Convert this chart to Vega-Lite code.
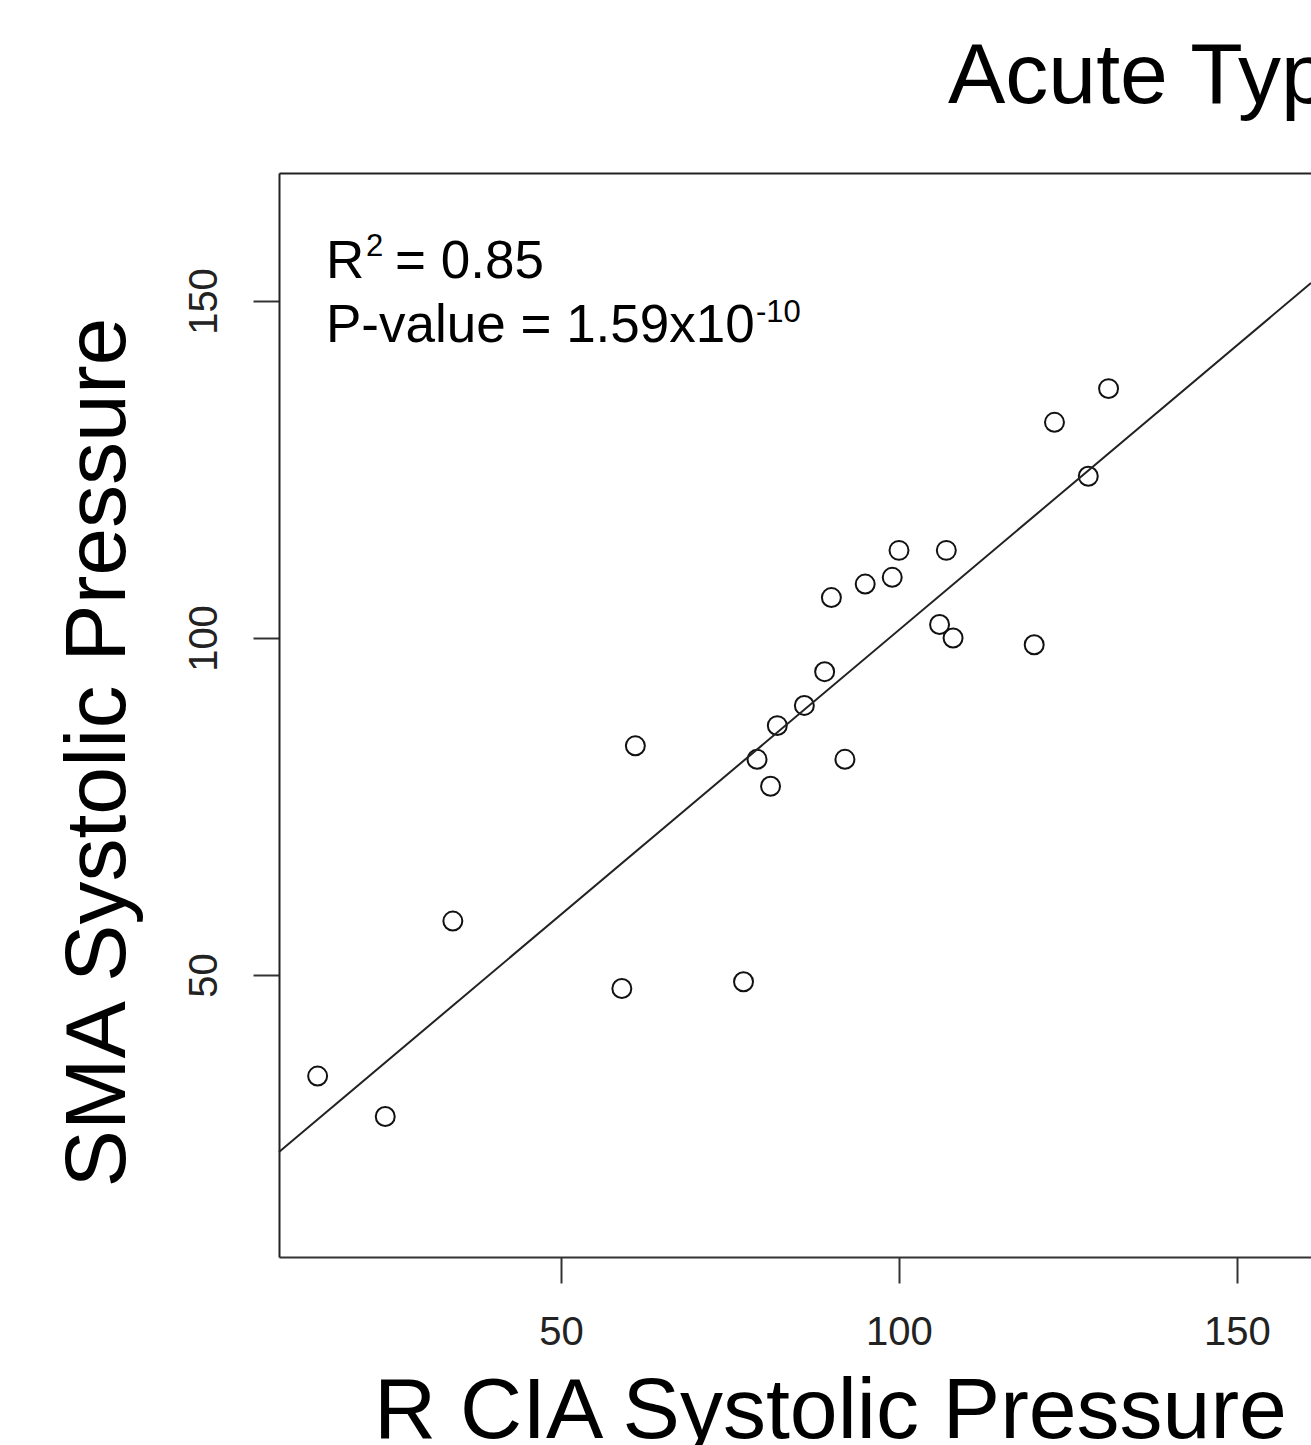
{
  "$schema": "https://vega.github.io/schema/vega-lite/v6.json",
  "width": 1032,
  "height": 1084,
  "autosize": {"type": "none"},
  "padding": {"left": 279, "top": 173, "right": 0, "bottom": 188},
  "background": "white",
  "config": {"view": {"stroke": null}, "font": "Liberation Sans"},
  "title": {
    "text": "Acute Type",
    "anchor": "start",
    "frame": "group",
    "dx": 669,
    "offset": -16,
    "baseline": "alphabetic",
    "fontSize": 86,
    "font": "Liberation Sans",
    "fontWeight": "normal",
    "color": "black"
  },
  "datasets": {
    "points": [
      {"x": 14, "y": 35}, {"x": 24, "y": 29}, {"x": 34, "y": 58}, {"x": 59, "y": 48},
      {"x": 61, "y": 84}, {"x": 77, "y": 49}, {"x": 79, "y": 82}, {"x": 81, "y": 78},
      {"x": 82, "y": 87}, {"x": 86, "y": 90}, {"x": 89, "y": 95}, {"x": 90, "y": 106},
      {"x": 92, "y": 82}, {"x": 95, "y": 108}, {"x": 99, "y": 109}, {"x": 100, "y": 113},
      {"x": 106, "y": 102}, {"x": 107, "y": 113}, {"x": 108, "y": 100}, {"x": 120, "y": 99},
      {"x": 123, "y": 132}, {"x": 128, "y": 124}, {"x": 131, "y": 137}
    ],
    "fit": [
      {"x": 8.284, "y": 23.74},
      {"x": 160.947, "y": 152.67}
    ],
    "one": [{}]
  },
  "layer": [
    {
      "data": {"name": "points"},
      "mark": {"type": "point", "shape": "circle", "filled": false, "size": 360, "strokeWidth": 2, "color": "#111", "opacity": 1},
      "encoding": {
        "x": {
          "field": "x", "type": "quantitative",
          "scale": {"domain": [8.284, 160.947], "nice": false, "zero": false},
          "axis": {
            "orient": "bottom", "values": [50, 100, 150], "grid": false,
            "domain": true, "domainColor": "#333", "domainWidth": 2,
            "ticks": true, "tickColor": "#333", "tickWidth": 2, "tickSize": 26,
            "labelFontSize": 40, "labelFont": "Liberation Sans", "labelColor": "#222",
            "labelPadding": 61, "labelBaseline": "alphabetic", "labelAlign": "center", "labelAngle": 0,
            "title": "R CIA Systolic Pressure", "titleFontSize": 86, "titleFont": "Liberation Sans",
            "titleFontWeight": "normal", "titleColor": "black", "titleX": 551, "titleY": 180,
            "titleBaseline": "alphabetic", "titleAlign": "center"
          }
        },
        "y": {
          "field": "y", "type": "quantitative",
          "scale": {"domain": [8.16, 168.99], "nice": false, "zero": false},
          "axis": {
            "orient": "left", "values": [50, 100, 150], "grid": false,
            "domain": true, "domainColor": "#222", "domainWidth": 2,
            "ticks": true, "tickColor": "#333", "tickWidth": 2, "tickSize": 26,
            "labelFontSize": 40, "labelFont": "Liberation Sans", "labelColor": "#222",
            "labelPadding": 37, "labelAngle": -90, "labelAlign": "center", "labelBaseline": "alphabetic",
            "title": "SMA Systolic Pressure", "titleFontSize": 86, "titleFont": "Liberation Sans",
            "titleFontWeight": "normal", "titleColor": "black", "titleX": -155, "titleY": 579,
            "titleAngle": 270, "titleBaseline": "alphabetic", "titleAlign": "center"
          }
        }
      }
    },
    {
      "data": {"name": "fit"},
      "mark": {"type": "line", "color": "#222", "strokeWidth": 2},
      "encoding": {
        "x": {"field": "x", "type": "quantitative", "axis": {"orient": "top", "labels": false, "ticks": false, "title": null, "grid": false, "domain": true, "domainColor": "#222", "domainWidth": 2}},
        "y": {"field": "y", "type": "quantitative", "axis": null}
      }
    },
    {
      "data": {"name": "one"},
      "mark": {"type": "text", "text": "R", "fontSize": 53, "font": "Liberation Sans", "align": "left", "baseline": "alphabetic", "color": "black"},
      "encoding": {"x": {"datum": 15.24, "type": "quantitative", "axis": null}, "y": {"datum": 153.41, "type": "quantitative", "axis": null}}
    },
    {
      "data": {"name": "one"},
      "mark": {"type": "text", "text": "2", "fontSize": 31, "font": "Liberation Sans", "align": "left", "baseline": "alphabetic", "color": "black", "dx": 40, "dy": -22},
      "encoding": {"x": {"datum": 15.24, "type": "quantitative", "axis": null}, "y": {"datum": 153.41, "type": "quantitative", "axis": null}}
    },
    {
      "data": {"name": "one"},
      "mark": {"type": "text", "text": "= 0.85", "fontSize": 53, "font": "Liberation Sans", "align": "left", "baseline": "alphabetic", "color": "black", "dx": 69},
      "encoding": {"x": {"datum": 15.24, "type": "quantitative", "axis": null}, "y": {"datum": 153.41, "type": "quantitative", "axis": null}}
    },
    {
      "data": {"name": "one"},
      "mark": {"type": "text", "text": "P-value = 1.59x10", "fontSize": 53, "font": "Liberation Sans", "align": "left", "baseline": "alphabetic", "color": "black"},
      "encoding": {"x": {"datum": 15.24, "type": "quantitative", "axis": null}, "y": {"datum": 143.92, "type": "quantitative", "axis": null}}
    },
    {
      "data": {"name": "one"},
      "mark": {"type": "text", "text": "-10", "fontSize": 31, "font": "Liberation Sans", "align": "left", "baseline": "alphabetic", "color": "black", "dx": 430, "dy": -20},
      "encoding": {"x": {"datum": 15.24, "type": "quantitative", "axis": null}, "y": {"datum": 143.92, "type": "quantitative", "axis": null}}
    }
  ],
  "resolve": {"axis": {"x": "independent", "y": "independent"}}
}
